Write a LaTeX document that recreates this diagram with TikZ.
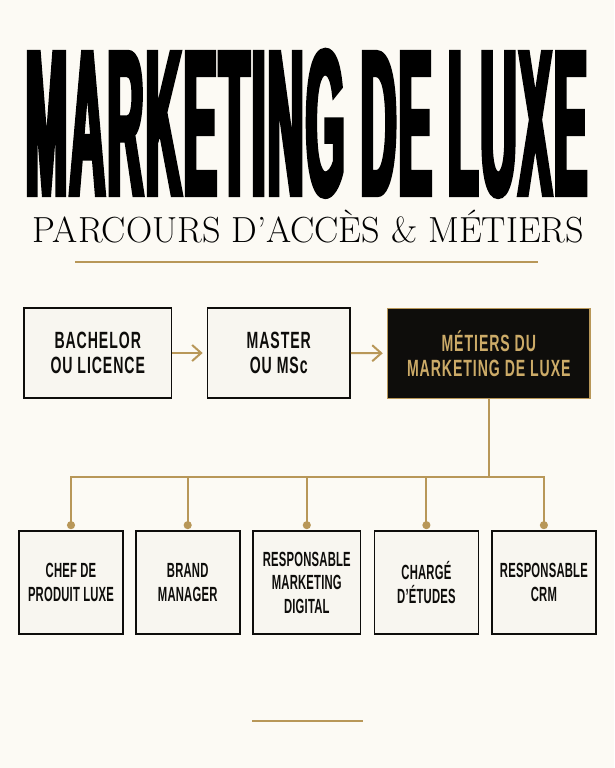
\documentclass[tikz,border=0pt]{standalone}
\usepackage{fontspec}
\usepackage{graphicx}
\usetikzlibrary{arrows.meta}
\definecolor{cream}{RGB}{252,250,244}
\definecolor{paper}{RGB}{248,246,240}
\definecolor{gold}{RGB}{184,151,88}
\definecolor{lightgold}{RGB}{204,171,104}
\definecolor{ink}{RGB}{14,13,11}
\newfontfamily\titlefont[FakeStretch=0.24,FakeBold=2,LetterSpace=1]{Liberation Sans}
\newfontfamily\boxfont[FakeStretch=0.6,LetterSpace=4]{Liberation Sans}
\newfontfamily\jobfont[FakeStretch=0.55,LetterSpace=1]{Liberation Sans}

\begin{document}
\begin{tikzpicture}[x=1pt,y=-1pt,
  stage/.style={draw=ink,line width=1.7pt,fill=paper,text=ink,align=center,
    minimum height=90pt,inner sep=0pt,
    font=\boxfont\bfseries\fontsize{23.5pt}{25pt}\selectfont},
  goal/.style={stage,draw=gold,fill=ink,text=lightgold},
  job/.style={draw=ink,line width=1.7pt,fill=paper,text=ink,align=center,
    minimum width=104pt,minimum height=103pt,inner sep=0pt,
    font=\jobfont\bfseries\fontsize{20.5pt}{23.5pt}\selectfont},
  flow/.style={gold,line width=2pt,-{Straight Barb[length=9pt,width=16pt]},shorten >=4pt},
  link/.style={gold,line width=2pt}]
  \useasboundingbox[fill=cream] (0,0) rectangle (614,768);

  % title
  \node[anchor=base,inner sep=0pt] (title) at (306.5,195)
    {\titlefont\bfseries\fontsize{208pt}{208pt}\selectfont MARKETING DE LUXE};
  \node[anchor=base,inner sep=0pt] (subtitle) at (308.5,242)
    {\resizebox{551pt}{!}{\addfontfeatures{LetterSpace=6}\fontsize{32pt}{32pt}\selectfont PARCOURS D’ACCÈS \& MÉTIERS}};
  \draw[gold,line width=2pt] (75,262) -- (538,262);

  % parcours
  \node[stage,minimum width=147.5pt] (bachelor) at (97.75,353) {BACHELOR\\OU LICENCE};
  \node[stage,minimum width=142.5pt] (master) at (278.75,353) {MASTER\\OU MSc};
  \node[goal,minimum width=202.4pt] (metiers) at (488.8,353.5) {MÉTIERS DU\\MARKETING DE LUXE};
  \draw[flow] (bachelor) -- (master);
  \draw[flow] (master) -- (metiers);

  % metiers
  \node[job] (chef) at (71,582.5) {CHEF DE\\PRODUIT LUXE};
  \node[job] (brand) at (187.7,582.5) {BRAND\\MANAGER};
  \node[job,minimum width=107.6pt] (digital) at (306.8,582.5) {RESPONSABLE\\MARKETING\\DIGITAL};
  \node[job] (etudes) at (426.4,582.5) {CHARGÉ\\D’ÉTUDES};
  \node[job] (crm) at (543.9,582.5) {RESPONSABLE\\CRM};

  \draw[link] (metiers.south) -- ++(0,78) coordinate (split);
  \draw[link,line cap=rect] (chef.north |- split) -- (crm.north |- split);
  \foreach \j in {chef,brand,digital,etudes,crm}
    \draw[link,-{Circle[length=8pt]},shorten >=1pt] (\j.north |- split) -- (\j.north);

  \draw[gold,line width=1.5pt] (252,721) -- (363,721);
\end{tikzpicture}
\end{document}
